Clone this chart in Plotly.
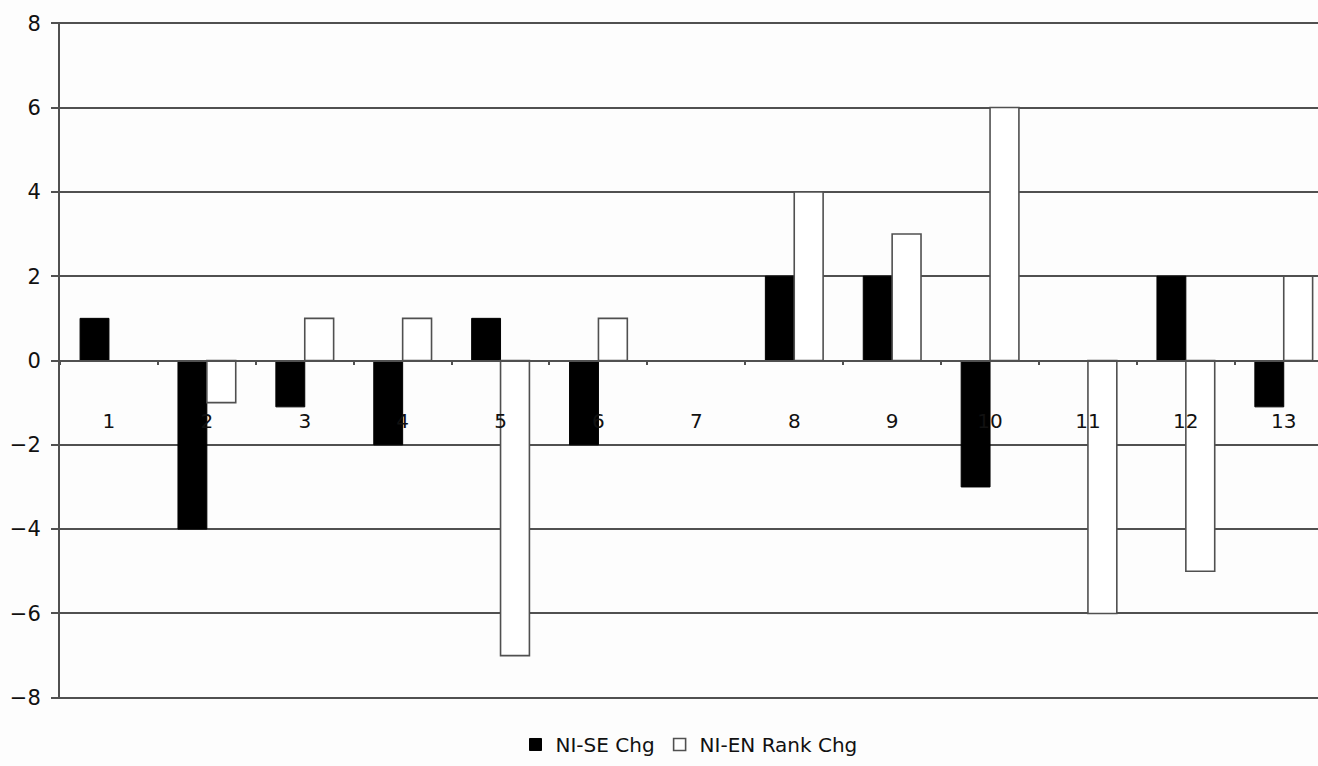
import plotly.graph_objects as go

categories = [str(i) for i in range(1, 14)]
ni_se_chg = [1, -4, -1.1, -2, 1, -2, 0, 2, 2, -3, 0, 2, -1.1]
ni_en_rank_chg = [0, -1, 1, 1, -7, 1, 0, 4, 3, 6, -6, -5, 2]
y_ticks = [-8, -6, -4, -2, 0, 2, 4, 6, 8]
y_tick_text = ["\u22128", "\u22126", "\u22124", "\u22122", "0", "2", "4", "6", "8"]

line_col = "#505050"
text_col = "#111111"
font_family = "DejaVu Sans, Liberation Sans, Arial, sans-serif"


def visible(values):
    # zero-height bars would leave a stray stub on the axis line
    return [v if v != 0 else None for v in values]


fig = go.Figure()
fig.add_trace(go.Bar(
    x=categories, y=visible(ni_se_chg), name="NI-SE Chg",
    marker=dict(color="#000000", line=dict(color="#000000", width=1)),
))
fig.add_trace(go.Bar(
    x=categories, y=visible(ni_en_rank_chg), name="NI-EN Rank Chg",
    marker=dict(color="#ffffff", line=dict(color=line_col, width=1.6)),
))

fig.update_layout(
    width=1318, height=766,
    margin=dict(l=60, r=0, t=22, b=67),
    paper_bgcolor="#fdfdfd", plot_bgcolor="#fdfdfd",
    barmode="group", bargap=0.41, bargroupgap=0,
    font=dict(family=font_family, color=text_col, size=20),
    showlegend=True,
    legend=dict(
        orientation="h", x=0.5, xanchor="center", y=-0.096, yanchor="bottom",
        font=dict(size=20, color=text_col), itemwidth=30,
        bgcolor="rgba(0,0,0,0)", traceorder="normal",
    ),
    xaxis=dict(
        type="category", range=[-0.5, 12.35],
        anchor="free", position=0.5, layer="above traces",
        showline=True, linecolor=line_col, linewidth=2,
        showgrid=False, zeroline=False,
        ticks="outside", tickson="boundaries", ticklen=3, tickwidth=1.5,
        tickcolor=line_col, ticklabelstandoff=42,
        tickfont=dict(size=20, color=text_col),
    ),
    yaxis=dict(
        range=[-8.03, 8.03], tickvals=y_ticks, ticktext=y_tick_text,
        showline=True, linecolor=line_col, linewidth=2,
        showgrid=True, gridcolor=line_col, gridwidth=1.6,
        zeroline=True, zerolinecolor=line_col, zerolinewidth=1.6,
        ticks="outside", ticklen=7, tickwidth=1.5, tickcolor=line_col,
        ticklabelstandoff=6,
        tickfont=dict(size=21, color=text_col),
    ),
)

fig.write_html("out.html")
